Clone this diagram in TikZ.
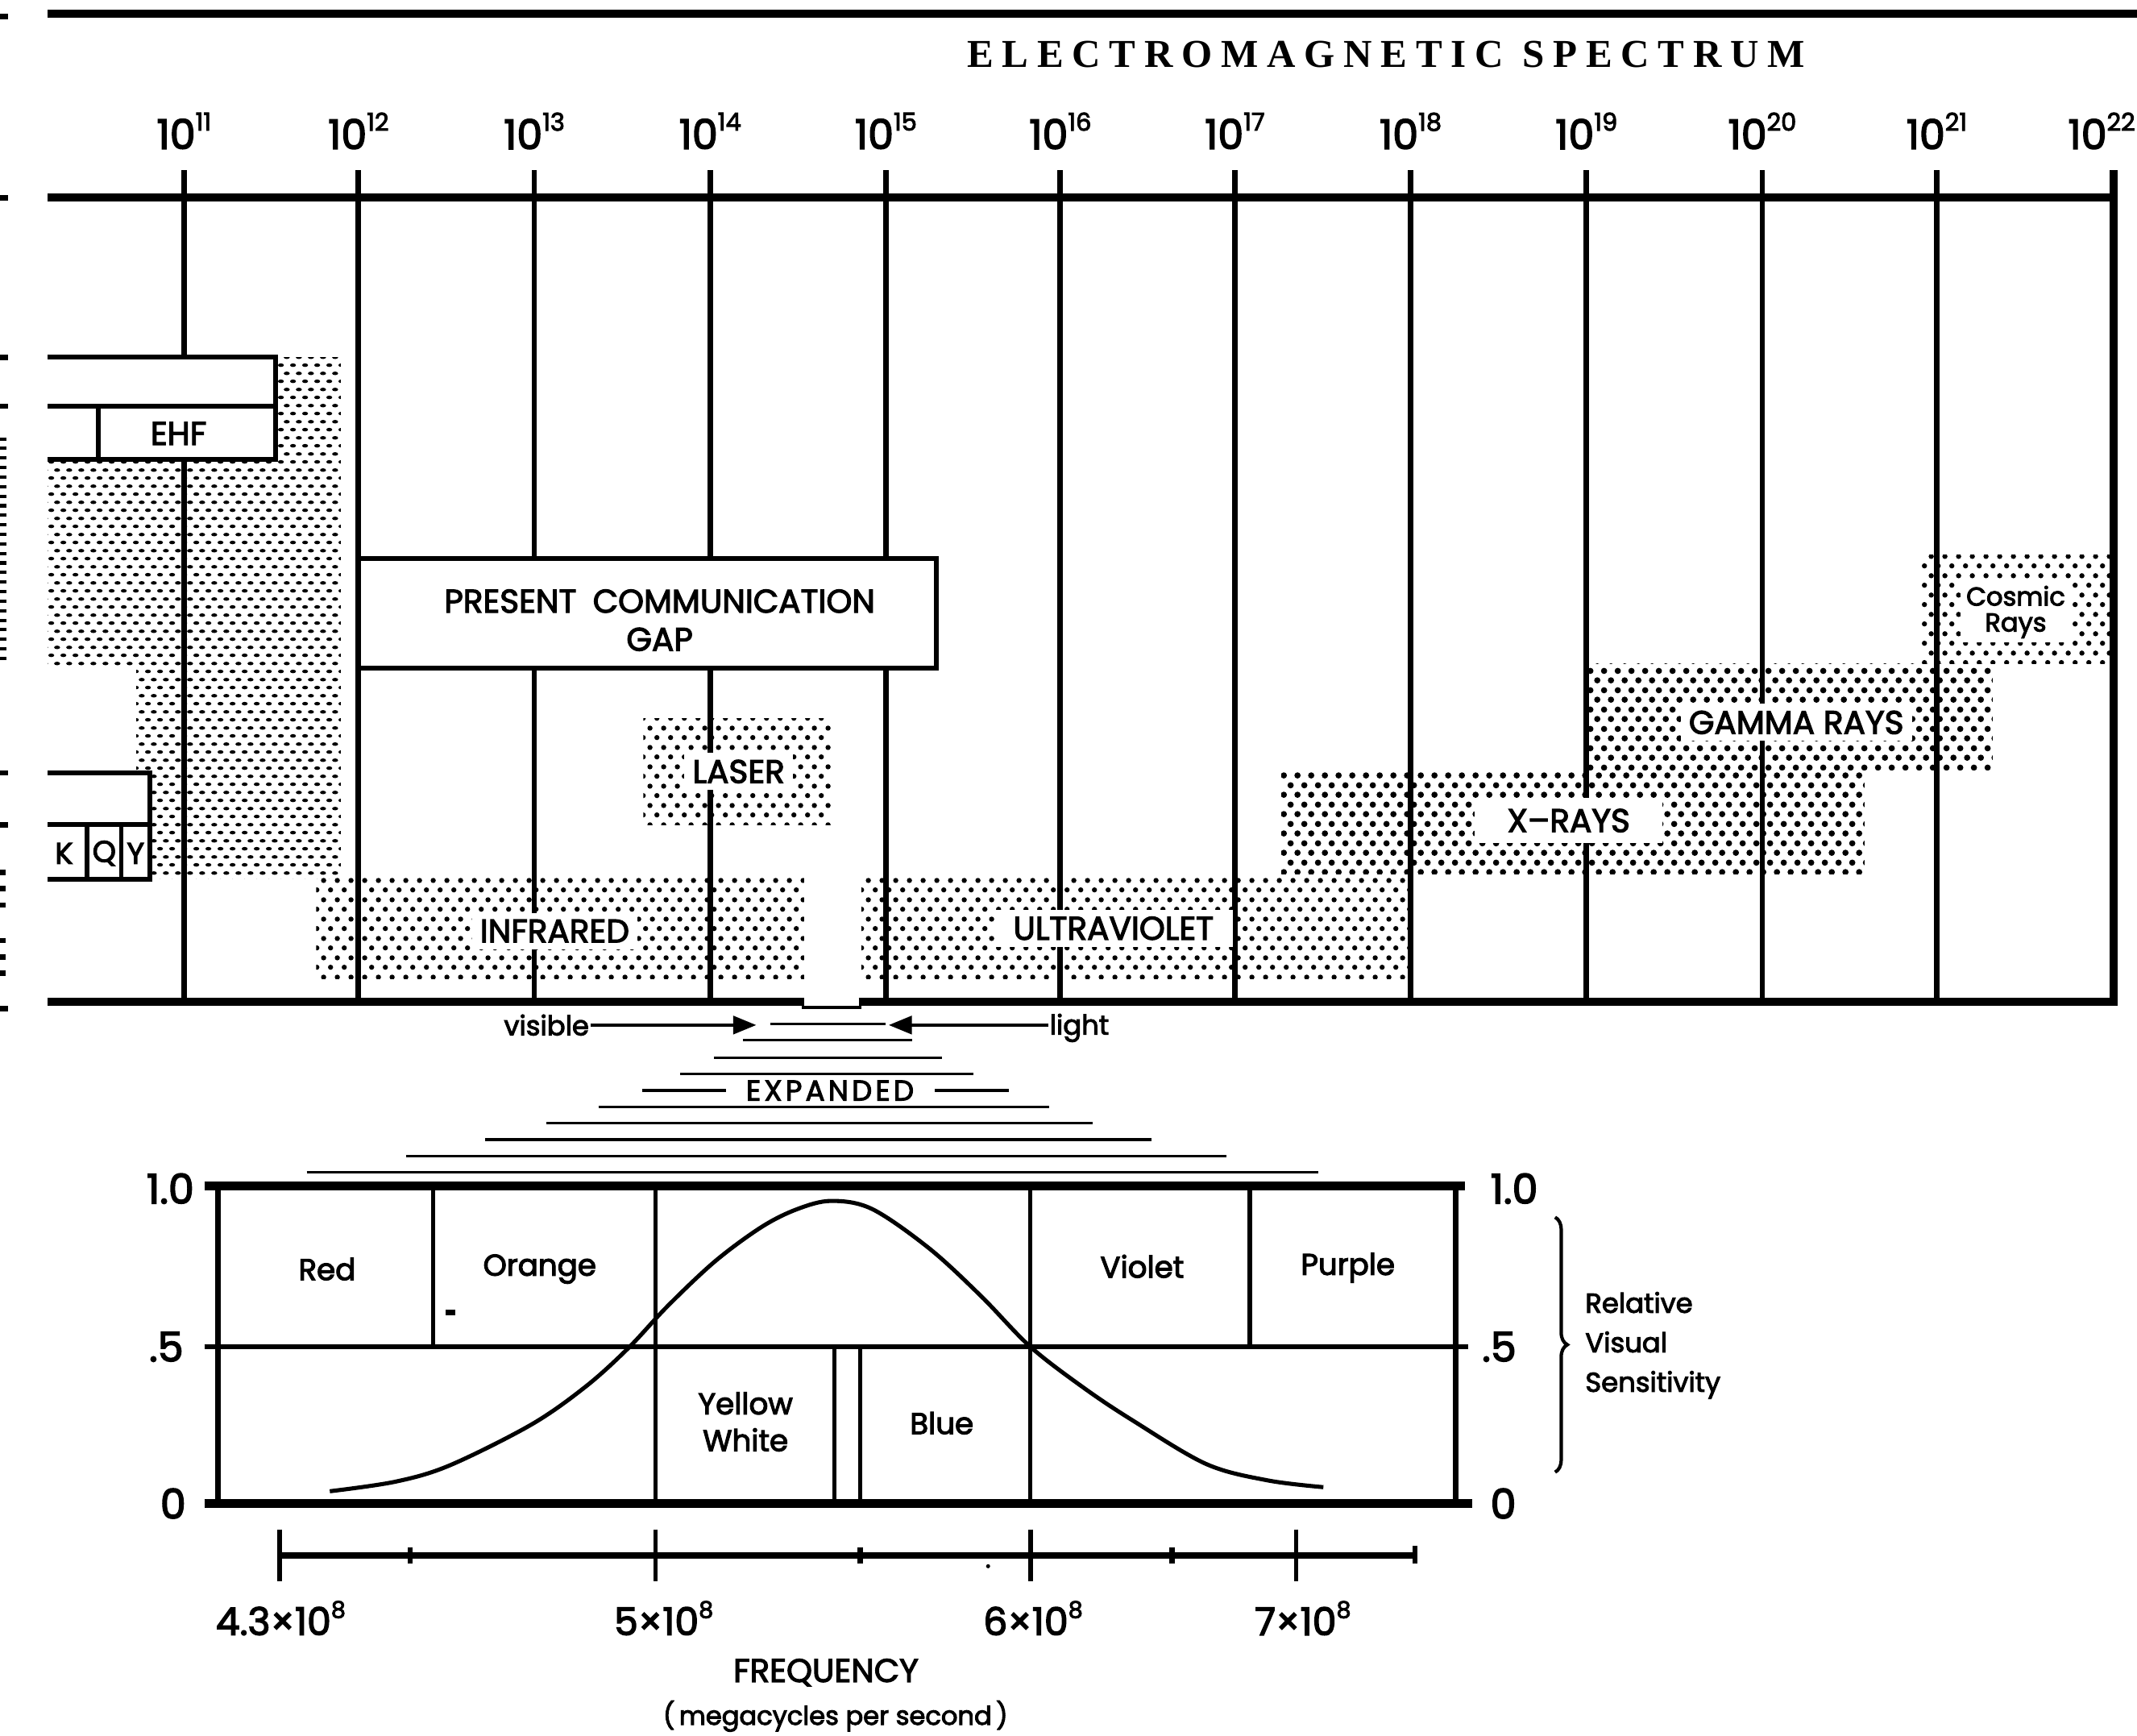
\documentclass[tikz,border=0pt]{standalone}
\usepackage{fontspec}
\setmainfont{Poppins}[FakeBold=3]
\newfontfamily\titlefont{Liberation Serif}[LetterSpace=22]
\newfontfamily\spacedfont{Poppins}[LetterSpace=12,FakeBold=3]
\usetikzlibrary{patterns.meta,decorations.pathreplacing,arrows.meta}

\tikzdeclarepattern{name=halftone, type=uncolored,
  bottom left={(0pt,0pt)}, top right={(10pt,14pt)}, tile size={(10pt,14pt)},
  code={\fill (2.5pt,3.5pt) circle (1.9pt); \fill (7.5pt,10.5pt) circle (1.9pt);}}
\tikzdeclarepattern{name=halftonedark, type=uncolored,
  bottom left={(0pt,0pt)}, top right={(10pt,14pt)}, tile size={(10pt,14pt)},
  code={\fill (2.5pt,3.5pt) circle (2.3pt); \fill (7.5pt,10.5pt) circle (2.3pt);}}
\tikzdeclarepattern{name=halftonedash, type=uncolored,
  bottom left={(0pt,0pt)}, top right={(9pt,12pt)}, tile size={(9pt,12pt)},
  code={\fill (2.25pt,3pt) ellipse (2.3pt and 1.35pt); \fill (6.75pt,9pt) ellipse (2.3pt and 1.35pt);}}

\newcommand\pw[3]{#1\raisebox{.45em}{\fontsize{#3}{#3}\selectfont #2}}

\tikzset{
  heavy/.style={line width=6pt},
  vrule/.style={line width=4pt},
  divider/.style={line width=3pt},
  fanline/.style={line width=2pt},
  boxline/.style={line width=3.5pt},
  lab/.style={inner sep=1pt, font=\fontsize{24}{27}\selectfont},
  halo/.style={lab, fill=white, inner xsep=6pt, inner ysep=5pt},
  dec/.style={font=\fontsize{30}{30}\selectfont, inner sep=0pt},
  axl/.style={font=\fontsize{30}{30}\selectfont, inner sep=0pt},
  col/.style={font=\fontsize{22}{27}\selectfont, inner sep=1pt, align=center},
  arr/.style={line width=2.8pt, -{Triangle[length=17pt,width=13pt]}},
  freq/.style={font=\fontsize{28}{28}\selectfont, inner sep=0pt},
}

\begin{document}
\begin{tikzpicture}[x=1pt,y=-1pt]
\useasboundingbox (0,0) rectangle (1568,1273);
\fill[white] (0,0) rectangle (1568,1273);

% ---------- halftone regions ----------
\fill[pattern=halftonedash] (35,262) -- (250,262) -- (250,645) -- (100,645) -- (100,490) -- (35,490) -- cycle;
\fill[pattern=halftone] (232,642) rectangle (590,718);
\fill[pattern=halftone] (472,527) rectangle (610,605);
\fill[pattern=halftone] (632,642) rectangle (1033,718);
\fill[pattern=halftonedark] (940,566) rectangle (1368,641);
\fill[pattern=halftonedark] (1166,487) rectangle (1462,565);
\fill[pattern=halftone] (1409,407) rectangle (1550,487);

% ---------- title ----------
\node[font=\titlefont\bfseries\fontsize{29}{29}\selectfont, inner sep=0pt] (title) at (1017,40) {ELECTROMAGNETIC SPECTRUM};

% ---------- horizontal rules ----------
\draw[heavy] (35,10) -- (1568,10);
\draw[heavy] (35,145) -- (1554,145);
\draw[heavy] (35,735) -- (590,735);
\draw[line width=2pt] (588,739) -- (632,739);
\draw[heavy] (630,735) -- (1554,735);

% ---------- decade labels and lines ----------
\foreach \x/\e in {135/11,263/12,392/13,521/14,650/15,778/16,906/17,1035/18,1164/19,1293/20,1421/21}
  \node[dec] (d\e) at (\x,96) {\pw{10}{\e}{18}};
\node[dec] (d22) at (1542,96) {\pw{10}{22}{18}};
\draw[vrule] (135,125) -- (135,262);
\draw[vrule] (135,337) -- (135,735);
\foreach \x in {263,392,521,650,778,906,1035,1164,1293,1421}
  \draw[vrule] (\x,125) -- (\x,735);
\draw[line width=6pt] (1551,125) -- (1551,738);

% ---------- EHF box ----------
\fill[white] (35,262) rectangle (202,337);
\draw[boxline] (35,262) -- (202,262) -- (202,337) -- (35,337);
\draw[boxline] (35,298) -- (202,298);
\draw[boxline] (72,298) -- (72,337);
\node[lab] (ehf) at (131,318) {EHF};

% ---------- K Q Y box ----------
\fill[white] (35,567) rectangle (110,645);
\draw[boxline] (35,567) -- (110,567) -- (110,645) -- (35,645);
\draw[boxline] (35,605) -- (110,605);
\draw[boxline] (64,605) -- (64,645);
\draw[boxline] (89,605) -- (89,645);
\node[lab, font=\fontsize{22}{22}\selectfont] (kband) at (47,626) {K};
\node[lab, font=\fontsize{22}{22}\selectfont] (qband) at (76.5,626) {Q};
\node[lab, font=\fontsize{22}{22}\selectfont] (yband) at (99.5,626) {Y};

% ---------- communication gap ----------
\node[draw, line width=3.5pt, fill=white, minimum width=424pt, minimum height=80pt, inner sep=0pt] (gapbox) at (475,450) {};
\node[lab, align=center, font=\fontsize{24}{28}\selectfont] (gap) at (484,455) {PRESENT\hspace{0.5em}COMMUNICATION\\GAP};

% ---------- region labels ----------
\node[halo] (laser) at (542,566) {LASER};
\node[halo] (infrared) at (407,683) {INFRARED};
\node[halo, inner xsep=14pt] (uv) at (817,681) {ULTRAVIOLET};
\node[halo, inner xsep=24pt, inner ysep=8pt] (xray) at (1151,602) {X–RAYS};
\node[halo] (gamma) at (1318,530) {GAMMA RAYS};
\node[halo, align=center, font=\fontsize{19}{19}\selectfont, inner xsep=4pt, inner ysep=3pt] (cosmic) at (1479,449) {Cosmic\\Rays};

% ---------- visible light ----------
\node[lab, font=\fontsize{20}{20}\selectfont] (visible) at (401,752) {visible};
\node[lab, font=\fontsize{20}{20}\selectfont, anchor=base west] (light) at (769,759) {light};
\coordinate (vtip) at (555,752);
\coordinate (ltip) at (652,752);
\draw[arr] (visible.east) -- (vtip);
\draw[arr] (light.west |- ltip) -- (ltip);

% ---------- expanded fan ----------
\draw[fanline] (565,751) -- (650,751);
\draw[fanline] (545,763) -- (669,763);
\draw[fanline] (524,776) -- (691,776);
\draw[fanline] (499,788) -- (714,788);
\draw[fanline] (471,800) -- (533,800);
\draw[fanline] (686,800) -- (740,800);
\draw[fanline] (439,812) -- (770,812);
\draw[fanline] (401,824) -- (802,824);
\draw[fanline] (356,836) -- (845,836);
\draw[fanline] (298,848) -- (900,848);
\draw[fanline] (225,860) -- (967,860);
\node[inner sep=0pt, font=\spacedfont\fontsize{21}{21}\selectfont] (expanded) at (609,800) {EXPANDED};

% ---------- sensitivity graph ----------
\draw[heavy] (150,870) -- (1075,870);
\draw[heavy] (150,1103) -- (1080,1103);
\draw[line width=3.5pt] (150,988) -- (1077,988);
\draw[line width=4.5pt] (160,870) -- (160,1103);
\draw[line width=4.5pt] (1068,870) -- (1068,1103);
\draw[divider] (318,870) -- (318,988);
\draw[divider] (481,870) -- (481,1103);
\draw[divider] (756,870) -- (756,1103);
\draw[divider] (917,870) -- (917,988);
\draw[divider] (612,988) -- (612,1103);
\draw[divider] (631,988) -- (631,1103);
\fill (327,961) rectangle (334,965);

\node[col] (red) at (240,931) {Red};
\node[col] (orange) at (396,931) {Orange};
\node[col] (violet) at (838,929) {Violet};
\node[col] (purple) at (989,930) {Purple};
\node[col] (yellow) at (547,1043) {Yellow\\White};
\node[col] (blue) at (691,1044) {Blue};

\draw[line width=3pt] plot[smooth, tension=0.55] coordinates {
 (242,1094) (290,1087) (330,1075) (390,1045) (430,1017) (461,989) (490,958)
 (525,925) (559,900) (585,887) (610,881) (640,887) (682,916) (720,951)
 (756,988) (795,1018) (831,1042) (885,1074) (930,1086) (971,1091)};

\node[axl] (l10) at (125,872) {1.0};
\node[axl] (l05) at (122,988) {.5};
\node[axl] (l00) at (127,1103) {0};
\node[axl] (r10) at (1111,872) {1.0};
\node[axl] (r05) at (1100,988) {.5};
\node[axl] (r00) at (1103,1103) {0};

\draw[line width=2.5pt, decorate, decoration={brace, amplitude=9pt}] (1141,893) -- (1141,1080);
\node[anchor=west, align=left, font=\fontsize{20}{29}\selectfont, inner sep=0pt] (rvs) at (1163,987) {Relative\\Visual\\Sensitivity};

% ---------- frequency axis ----------
\draw[line width=4.5pt] (205,1141) -- (1038,1141);
\foreach \x in {205,481,756,951} \draw[line width=3.5pt] (\x,1122) -- (\x,1160);
\foreach \x in {301,631,860} \draw[line width=4pt] (\x,1135) -- (\x,1147);
\draw[line width=3.5pt] (1038,1134) -- (1038,1147);
\fill (725,1149) circle (1.5);

\node[freq] (f43) at (206,1187) {\pw{4.3×10}{8}{17}};
\node[freq] (f5) at (487,1187) {\pw{5×10}{8}{17}};
\node[freq] (f6) at (758,1187) {\pw{6×10}{8}{17}};
\node[freq] (f7) at (956,1187) {\pw{7×10}{8}{17}};
\node[inner sep=0pt, font=\fontsize{24}{24}\selectfont] (freqlab) at (606,1227) {FREQUENCY};
\node[inner sep=0pt, font=\fontsize{19}{19}\selectfont] (mcps) at (613,1259) {(\,megacycles per second\,)};

% ---------- scan edge marks ----------
\foreach \yy in {12,145,262,298,567,605,740}
  \fill (0,\yy-2) rectangle (6,\yy+2);
\foreach \yy in {322,329,...,488}
  \fill (0,\yy-1.2) rectangle (5,\yy+1.2);
\foreach \yy in {640,652,664,690,702,714}
  \fill (0,\yy-2) rectangle (4,\yy+2);
\end{tikzpicture}
\end{document}
